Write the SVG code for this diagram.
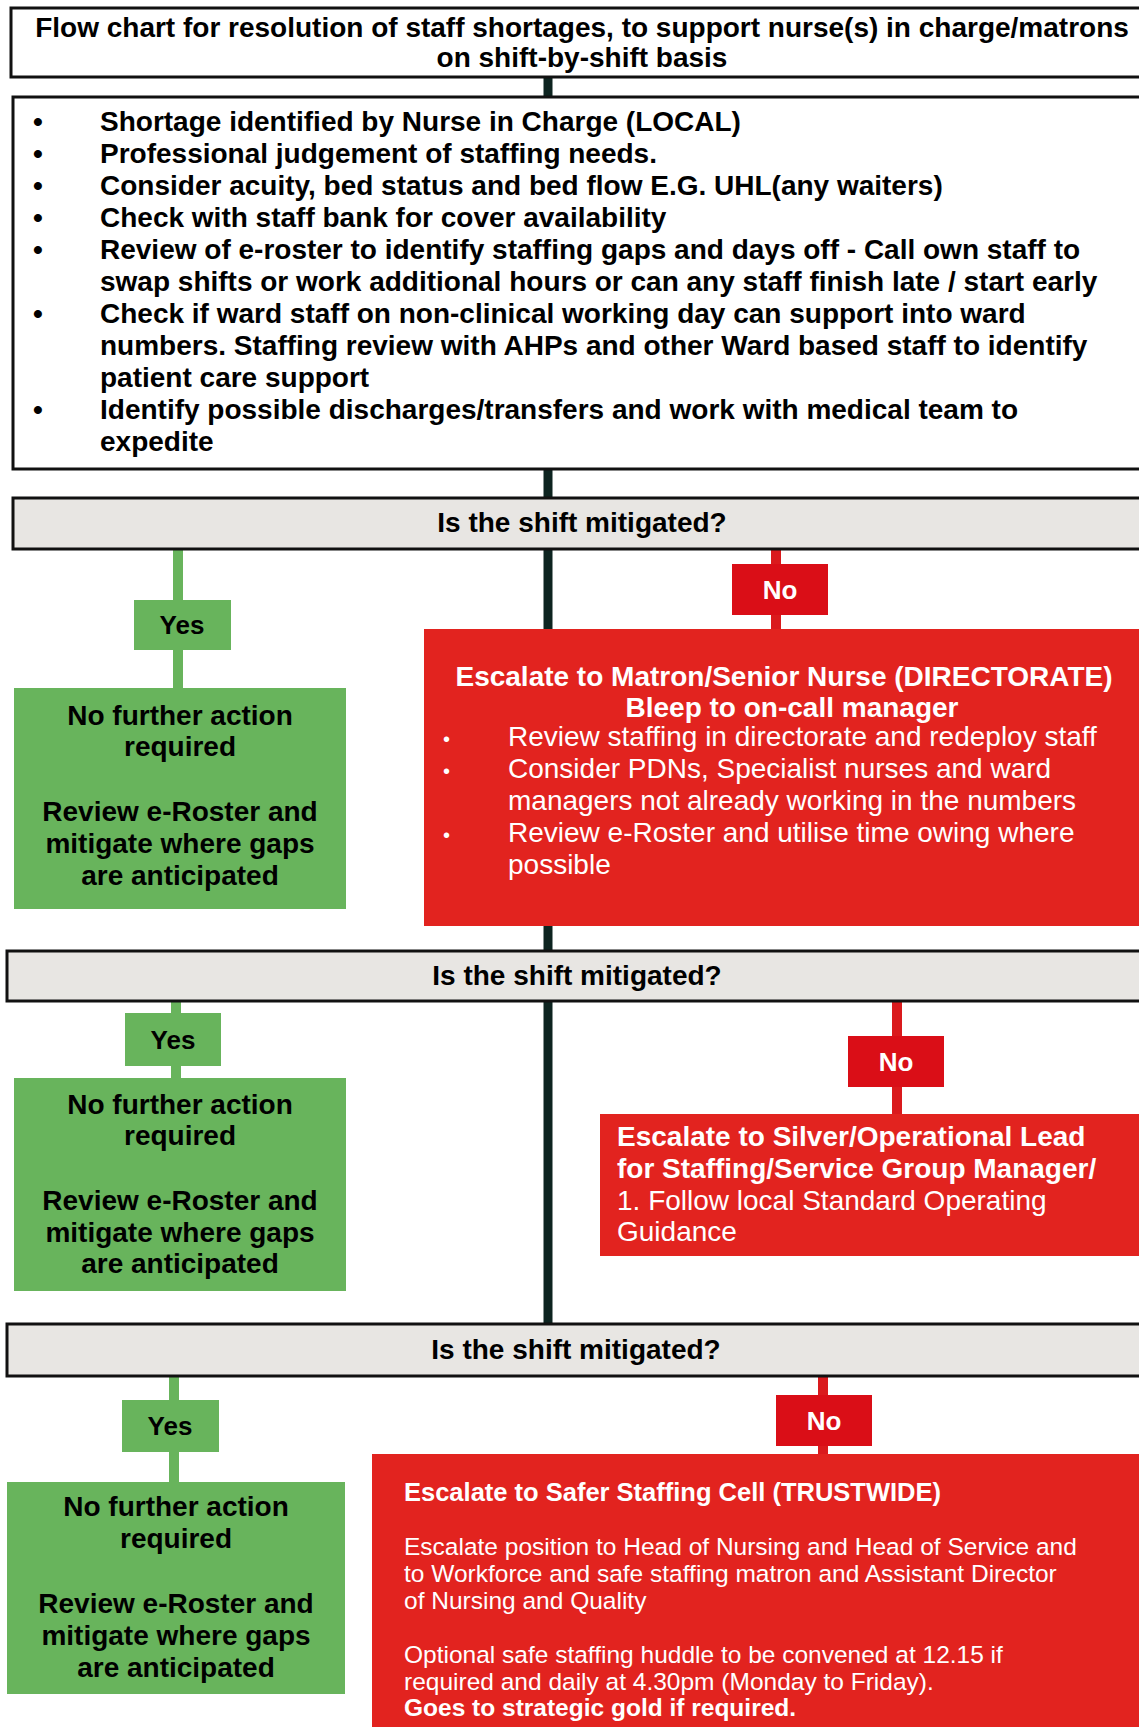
<svg xmlns="http://www.w3.org/2000/svg" width="1139" height="1727" viewBox="0 0 1139 1727">
<style>
text{font-family:"Liberation Sans",Arial,sans-serif}
.bold{font-weight:bold}
.box{fill:#ffffff;stroke:#111111;stroke-width:3}
.dec{fill:#e8e6e3;stroke:#111111;stroke-width:3}
.green{fill:#68b45c}
.red{fill:#e2231f}
.nolab{fill:#da0e17}
.main{stroke:#0d2420;stroke-width:9}
.gl{stroke:#68b45c;stroke-width:10}
.rl{stroke:#da1a1d;stroke-width:10}
.t28{font-size:28px}
.t26{font-size:26px}
.t24{font-size:24.5px}
.c{text-anchor:middle}
.blk{fill:#000000}
.wht{fill:#ffffff}
</style>
<rect x="0" y="0" width="1139" height="1727" fill="#ffffff"/>
<g id="connectors">
<line class="main" x1="548" y1="77" x2="548" y2="1324"/>
<line class="gl" x1="178" y1="549" x2="178" y2="688"/>
<line class="gl" x1="176" y1="1001" x2="176" y2="1078"/>
<line class="gl" x1="174" y1="1376" x2="174" y2="1482"/>
<line class="rl" x1="776" y1="549" x2="776" y2="629"/>
<line class="rl" x1="897" y1="1001" x2="897" y2="1114"/>
<line class="rl" x1="823" y1="1376" x2="823" y2="1454"/>
</g>
<g id="title">
<rect class="box" x="11" y="8" width="1160" height="69"/>
<text class="bold t28 c blk" x="582" y="37">Flow chart for resolution of staff shortages, to support nurse(s) in charge/matrons</text>
<text class="bold t28 c blk" x="582" y="67">on shift-by-shift basis</text>
</g>
<g id="local">
<rect class="box" x="13" y="97" width="1160" height="372"/>
<g class="bold t28 blk">
<text x="33" y="131">•</text><text x="100" y="131">Shortage identified by Nurse in Charge (LOCAL)</text>
<text x="33" y="163">•</text><text x="100" y="163">Professional judgement of staffing needs.</text>
<text x="33" y="195">•</text><text x="100" y="195">Consider acuity, bed status and bed flow E.G. UHL(any waiters)</text>
<text x="33" y="227">•</text><text x="100" y="227">Check with staff bank for cover availability</text>
<text x="33" y="259">•</text><text x="100" y="259">Review of e-roster to identify staffing gaps and days off - Call own staff to</text>
<text x="100" y="291">swap shifts or work additional hours or can any staff finish late / start early</text>
<text x="33" y="323">•</text><text x="100" y="323">Check if ward staff on non-clinical working day can support into ward</text>
<text x="100" y="355">numbers. Staffing review with AHPs and other Ward based staff to identify</text>
<text x="100" y="387">patient care support</text>
<text x="33" y="419">•</text><text x="100" y="419">Identify possible discharges/transfers and work with medical team to</text>
<text x="100" y="451">expedite</text>
</g>
</g>
<g id="decision1">
<rect class="dec" x="13" y="498" width="1160" height="51"/>
<text class="bold t28 c blk" x="582" y="532">Is the shift mitigated?</text>
</g>
<g id="yes1">
<rect class="green" x="134" y="600" width="97" height="50"/>
<text class="bold t26 c blk" x="182" y="634">Yes</text>
</g>
<g id="nfa1">
<rect class="green" x="14" y="688" width="332" height="221"/>
<g class="bold t28 c blk">
<text x="180" y="725">No further action</text>
<text x="180" y="756">required</text>
<text x="180" y="821">Review e-Roster and</text>
<text x="180" y="853">mitigate where gaps</text>
<text x="180" y="885">are anticipated</text>
</g>
</g>
<g id="no1">
<rect class="nolab" x="732" y="564" width="96" height="51"/>
<text class="bold t26 c wht" x="780" y="599">No</text>
</g>
<g id="directorate">
<rect class="red" x="424" y="629" width="740" height="297"/>
<text class="bold t28 c wht" x="784" y="686">Escalate to Matron/Senior Nurse (DIRECTORATE)</text>
<text class="bold t28 c wht" x="792" y="717">Bleep to on-call manager</text>
<g class="t28 wht">
<text x="443" y="746" style="font-size:20px">•</text><text x="508" y="746">Review staffing in directorate and redeploy staff</text>
<text x="443" y="778" style="font-size:20px">•</text><text x="508" y="778">Consider PDNs, Specialist nurses and ward</text>
<text x="508" y="810">managers not already working in the numbers</text>
<text x="443" y="842" style="font-size:20px">•</text><text x="508" y="842">Review e-Roster and utilise time owing where</text>
<text x="508" y="874">possible</text>
</g>
</g>
<g id="decision2">
<rect class="dec" x="7" y="951" width="1160" height="50"/>
<text class="bold t28 c blk" x="577" y="985">Is the shift mitigated?</text>
</g>
<g id="yes2">
<rect class="green" x="125" y="1013" width="96" height="53"/>
<text class="bold t26 c blk" x="173" y="1049">Yes</text>
</g>
<g id="nfa2">
<rect class="green" x="14" y="1078" width="332" height="213"/>
<g class="bold t28 c blk">
<text x="180" y="1114">No further action</text>
<text x="180" y="1145">required</text>
<text x="180" y="1210">Review e-Roster and</text>
<text x="180" y="1242">mitigate where gaps</text>
<text x="180" y="1273">are anticipated</text>
</g>
</g>
<g id="no2">
<rect class="nolab" x="848" y="1036" width="96" height="51"/>
<text class="bold t26 c wht" x="896" y="1071">No</text>
</g>
<g id="silver">
<rect class="red" x="600" y="1114" width="560" height="142"/>
<g class="t28 wht">
<text class="bold" x="617" y="1146">Escalate to Silver/Operational Lead</text>
<text class="bold" x="617" y="1178">for Staffing/Service Group Manager/</text>
<text x="617" y="1210">1. Follow local Standard Operating</text>
<text x="617" y="1241">Guidance</text>
</g>
</g>
<g id="decision3">
<rect class="dec" x="7" y="1324" width="1160" height="52"/>
<text class="bold t28 c blk" x="576" y="1359">Is the shift mitigated?</text>
</g>
<g id="yes3">
<rect class="green" x="122" y="1400" width="97" height="52"/>
<text class="bold t26 c blk" x="170" y="1435">Yes</text>
</g>
<g id="nfa3">
<rect class="green" x="7" y="1482" width="338" height="212"/>
<g class="bold t28 c blk">
<text x="176" y="1516">No further action</text>
<text x="176" y="1548">required</text>
<text x="176" y="1613">Review e-Roster and</text>
<text x="176" y="1645">mitigate where gaps</text>
<text x="176" y="1677">are anticipated</text>
</g>
</g>
<g id="no3">
<rect class="nolab" x="776" y="1395" width="96" height="51"/>
<text class="bold t26 c wht" x="824" y="1430">No</text>
</g>
<g id="trustwide">
<rect class="red" x="372" y="1454" width="800" height="300"/>
<g class="t24 wht">
<text class="bold" x="404" y="1501" style="font-size:25.5px">Escalate to Safer Staffing Cell (TRUSTWIDE)</text>
<text x="404" y="1555">Escalate position to Head of Nursing and Head of Service and</text>
<text x="404" y="1582">to Workforce and safe staffing matron and Assistant Director</text>
<text x="404" y="1609">of Nursing and Quality</text>
<text x="404" y="1663">Optional safe staffing huddle to be convened at 12.15 if</text>
<text x="404" y="1690">required and daily at 4.30pm (Monday to Friday).</text>
<text class="bold" x="404" y="1716">Goes to strategic gold if required.</text>
</g>
</g>
</svg>
